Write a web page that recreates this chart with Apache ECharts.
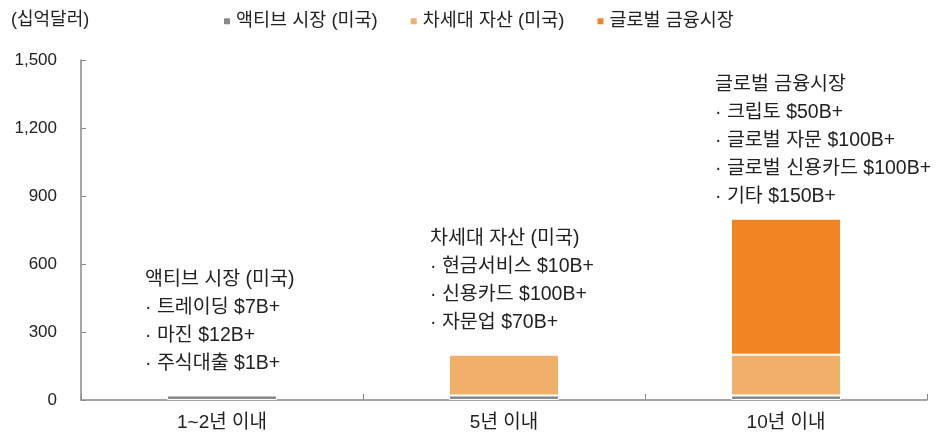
<!DOCTYPE html>
<html><head><meta charset="utf-8">
<script src="https://cdn.jsdelivr.net/npm/echarts@6/dist/echarts.min.js"></script>
<style>html,body{margin:0;padding:0;background:#fff}#c{width:940px;height:436px}</style>
</head><body><div id="c"></div>
<script>
const categories = ['1~2년 이내', '5년 이내', '10년 이내'];
const seriesNames = ['액티브 시장 (미국)', '차세대 자산 (미국)', '글로벌 금융시장'];
const activeUS = [20, 20, 20];
const nextGenUS = [0, 180, 180];
const globalFin = [0, 0, 600];
const yTicks = [0, 300, 600, 900, 1200, 1500];
const unitLabel = '(십억달러)';
const notes = [
  '액티브 시장 (미국)\n· 트레이딩 $7B+\n· 마진 $12B+\n· 주식대출 $1B+',
  '차세대 자산 (미국)\n· 현금서비스 $10B+\n· 신용카드 $100B+\n· 자문업 $70B+',
  '글로벌 금융시장\n· 크립토 $50B+\n· 글로벌 자문 $100B+\n· 글로벌 신용카드 $100B+\n· 기타 $150B+'
];
const colors = ['#8a8a8a', '#F0B06A', '#F38424'];
const notePos = [[-77, -18], [-74, -18], [-71, -8]];
const FONT = '"Liberation Sans", "Noto Sans CJK KR", sans-serif';

const totals = categories.map((_, i) => activeUS[i] + nextGenUS[i] + globalFin[i]);
const chart = echarts.init(document.getElementById('c'));
const dataSets = [activeUS, nextGenUS, globalFin];
const series = dataSets.map((d, k) => ({
  name: seriesNames[k],
  type: 'bar',
  stack: 'total',
  barWidth: '39%',
  data: d,
  itemStyle: { color: colors[k], borderColor: '#fff', borderWidth: 1 },
  emphasis: { disabled: true }
}));
series[0].markPoint = {
  symbol: 'rect', symbolSize: 0, silent: true,
  data: categories.map((c, i) => ({
    coord: [i, totals[i]],
    label: {
      show: true, formatter: notes[i], position: notePos[i],
      align: 'left', verticalAlign: 'bottom',
      fontSize: 19.5, lineHeight: 28, color: '#222', fontFamily: FONT
    }
  }))
};
chart.setOption({
  animation: false,
  textStyle: { fontFamily: FONT },
  title: { text: unitLabel, left: 6, top: 6, textStyle: { fontSize: 18, fontWeight: 'normal', color: '#222', fontFamily: FONT } },
  legend: {
    data: seriesNames, left: 217, top: 7, itemWidth: 8, itemHeight: 8, itemGap: 31,
    icon: 'rect',
    textStyle: { fontSize: 18.5, color: '#222', fontFamily: FONT, padding: [0, 0, 0, 0] }
  },
  grid: { left: 81, right: 13, top: 60, bottom: 36 },
  xAxis: {
    type: 'category', data: categories,
    axisLine: { lineStyle: { color: '#888', width: 1.5 } },
    axisTick: { show: true, inside: true, length: 6, lineStyle: { color: '#888' } },
    axisLabel: { fontSize: 19, color: '#222', margin: 13, fontFamily: FONT }
  },
  yAxis: {
    type: 'value', min: yTicks[0], max: yTicks[yTicks.length - 1], interval: 300,
    axisLine: { show: true, lineStyle: { color: '#888', width: 1.5 } },
    axisTick: { show: true, inside: true, length: 5, lineStyle: { color: '#888' } },
    splitLine: { show: false },
    axisLabel: { fontSize: 17, color: '#222', margin: 24, fontFamily: FONT,
      formatter: v => v.toLocaleString('en-US') }
  },
  series: series
});
</script></body></html>
